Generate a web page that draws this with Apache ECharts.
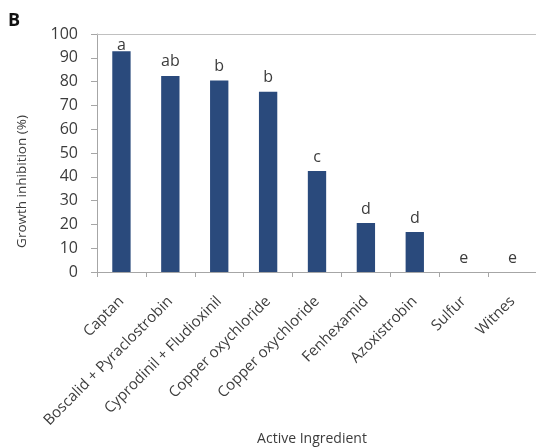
<!DOCTYPE html>
<html>
<head>
<meta charset="utf-8">
<script src="https://cdn.jsdelivr.net/npm/echarts@6/dist/echarts.min.js"></script>
<style>
  html, body { margin: 0; padding: 0; background: #fff; }
  #chart { width: 536px; height: 447px; }
</style>
</head>
<body>
<div id="chart"></div>
<script>
// Fungicide active ingredients and mean mycelial growth inhibition (%)
const ingredients = [
  'Captan',
  'Boscalid + Pyraclostrobin',
  'Cyprodinil + Fludioxinil',
  'Copper oxychloride',
  'Copper oxychloride',
  'Fenhexamid',
  'Azoxistrobin',
  'Sulfur',
  'Witnes'
];
const inhibition = [92.7, 82.4, 80.5, 75.7, 42.4, 20.6, 16.8, 0, 0];
// Significance groups (letters) for each treatment
const groups = ['a', 'ab', 'b', 'b', 'c', 'd', 'd', 'e', 'e'];
const yTicks = [0, 100, 10]; // min, max, step

const textColor = '#3c3c3c';
const axisGray = '#a6a6a6';
const font = 'Open Sans';

const barData = inhibition.map((v, i) => {
  const item = { value: v };
  if (i === 0) item.label = { offset: [0, 8] };
  return item;
});

const chart = echarts.init(document.getElementById('chart'), null, { renderer: 'canvas' });
chart.setOption({
  animation: false,
  textStyle: { fontFamily: font },
  graphic: [{
    type: 'text', left: 8, top: 12,
    style: { text: 'B', font: 'bold 18px ' + font, fill: '#111' }
  }],
  grid: {
    left: 97, top: 34, width: 440, height: 238,
    containLabel: false, outerBoundsMode: 'none'
  },
  xAxis: [{
    type: 'category',
    data: ingredients,
    name: 'Active Ingredient',
    nameLocation: 'middle',
    nameGap: 160,
    nameMoveOverlap: false,
    nameTextStyle: { fontSize: 14, color: textColor, fontFamily: font, padding: [0, 10, 0, 0] },
    axisLine: { lineStyle: { color: axisGray, width: 1 } },
    axisTick: { show: true, length: 5, lineStyle: { color: axisGray } },
    axisLabel: {
      interval: 0, rotate: 45, margin: 27,
      fontSize: 15, color: textColor, fontFamily: font
    }
  }, {
    type: 'category',
    position: 'top',
    data: ingredients,
    axisLine: { show: true, lineStyle: { color: '#c0c0c0', width: 1 } },
    axisTick: { show: false },
    axisLabel: { show: false }
  }],
  yAxis: {
    type: 'value',
    min: yTicks[0], max: yTicks[1], interval: yTicks[2],
    name: 'Growth inhibition (%)',
    nameLocation: 'middle',
    nameGap: 68,
    nameMoveOverlap: false,
    nameTextStyle: {
      fontSize: 13.5, color: textColor, fontFamily: font,
      padding: [0, 57, 0, 0]
    },
    axisLine: { show: true, lineStyle: { color: axisGray, width: 1 } },
    axisTick: { show: true, length: 6, lineStyle: { color: axisGray } },
    axisLabel: { margin: 19, fontSize: 16, color: textColor, fontFamily: font },
    splitLine: { show: false }
  },
  series: [{
    type: 'bar',
    data: barData,
    barWidth: '37.5%',
    itemStyle: { color: '#2a4a7c' },
    label: {
      show: true,
      position: 'top',
      distance: 6,
      fontSize: 16,
      color: textColor,
      fontFamily: font,
      formatter: p => groups[p.dataIndex]
    }
  }]
});
</script>
</body>
</html>
